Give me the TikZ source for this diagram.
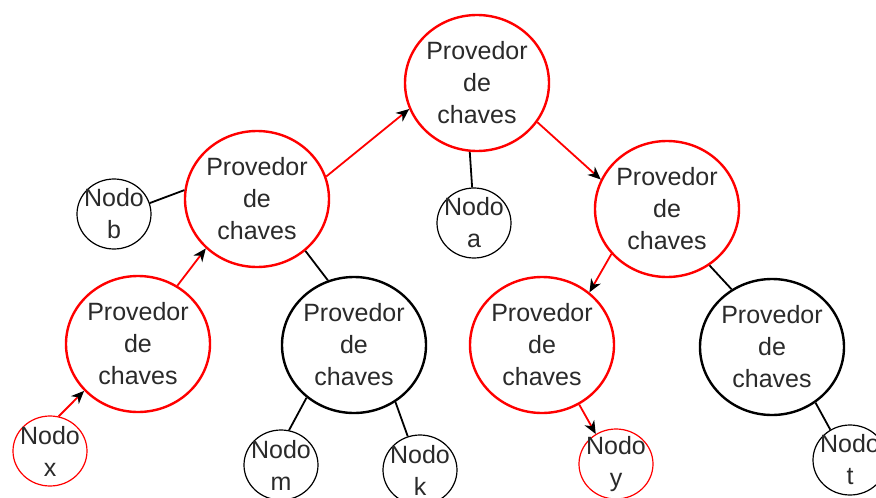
\documentclass[tikz,border=0pt]{standalone}
\usepackage{fontspec}
\setmainfont{Liberation Sans}
\usetikzlibrary{shapes.geometric,arrows.meta}
\definecolor{inkgray}{HTML}{2A2A2A}
\begin{document}
\begin{tikzpicture}[x=1pt,y=-1pt,
  txt/.style={font=\fontsize{25}{32}\selectfont, align=center, text=inkgray, inner sep=0pt},
  keyprov/.style={ellipse, draw, line width=2.4pt, minimum width=144pt, minimum height=136pt,
    inner sep=0pt, label={[txt]center:Provedor\\de\\chaves}},
  leaf/.style={ellipse, draw, line width=1.2pt, minimum width=74pt, minimum height=70pt,
    inner sep=0pt, label={[txt]center:Nodo\\#1}},
  route/.style={red, line width=1.8pt, -{Stealth[color=black, length=13pt, width=11pt, inset=4pt]}},
  link/.style={black, line width=1.8pt}
]
\clip (0,0) rectangle (876,498);
\fill[white] (0,0) rectangle (876,498);

% key providers
\node[keyprov, red]   (T)  at (477,83)  {};
\node[keyprov, red]   (L1) at (257,199) {};
\node[keyprov, red]   (R1) at (667,209) {};
\node[keyprov, red]   (L2) at (138,344) {};
\node[keyprov, black] (M)  at (354,345) {};
\node[keyprov, red]   (R2) at (542,345) {};
\node[keyprov, black] (R3) at (772,347) {};

% plain nodes
\node[leaf=b, black] (b) at (114,214) {};
\node[leaf=a, black] (a) at (474,223) {};
\node[leaf=x, red]   (x) at (50,451)  {};
\node[leaf=m, black] (m) at (281,465) {};
\node[leaf=k, black] (k) at (420,470) {};
\node[leaf=y, red]   (y) at (616,464) {};
\node[leaf=t, black] (t) at (850,460) {};

% key request route
\draw[route] (x.76)   -- (L2.221);
\draw[route] (L2.56)  -- (L1.224);
\draw[route] (L1.18)  -- (T.201);
\draw[route] (T.-33)  -- (R1.156);
\draw[route] (R1.219) -- (R2.48);
\draw[route] (R2.-58) -- (y.124);

% other tree links
\draw[link] (b.17)    -- (L1.173);
\draw[link] (L1.-47)  -- (M.112);
\draw[link] (T.-96)   -- (a.93);
\draw[link] (M.228)   -- (m.77);
\draw[link] (M.-54)   -- (k.110);
\draw[link] (R1.-53)  -- (R3.125);
\draw[link] (R3.-52)  -- (t.123);
\end{tikzpicture}
\end{document}
